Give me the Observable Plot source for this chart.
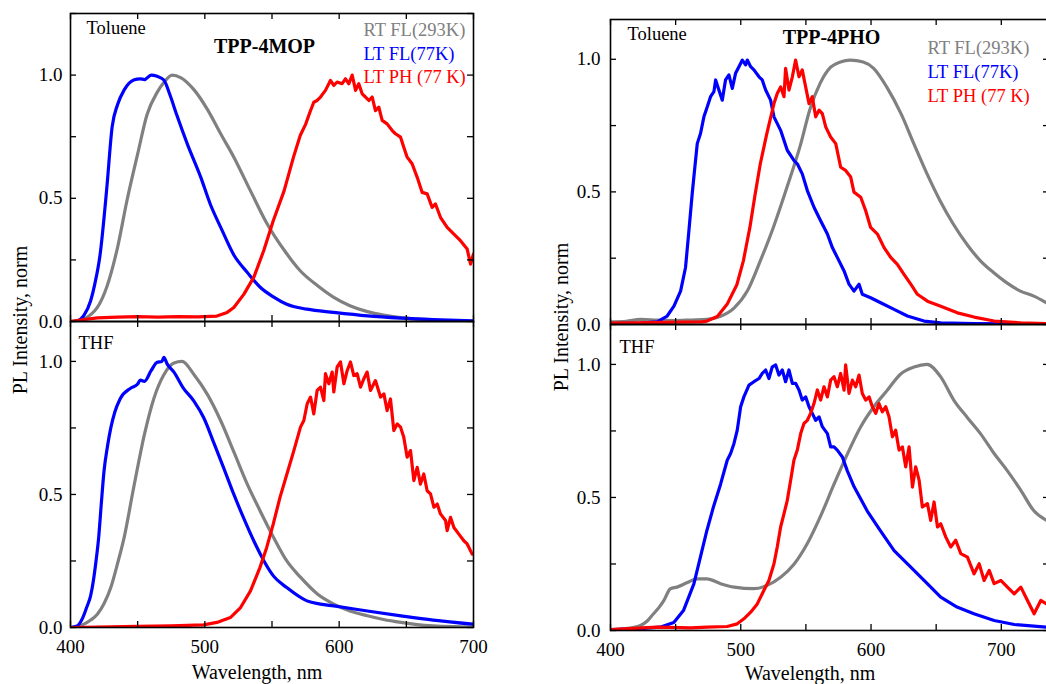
<!DOCTYPE html>
<html><head><meta charset="utf-8">
<script src="https://cdn.jsdelivr.net/npm/d3@7"></script>
<script src="https://cdn.jsdelivr.net/npm/@observablehq/plot@0.6"></script>
<style>
html,body{margin:0;padding:0;background:#fff;overflow:hidden;}
#wrap{position:relative;width:1046px;height:684px;font-family:"Liberation Serif","Times New Roman",serif;overflow:hidden;}
.panel{position:absolute;}
.panel text{font-family:"Liberation Serif","Times New Roman",serif;}
.ylab{position:absolute;font-family:"Liberation Serif","Times New Roman",serif;font-size:20px;transform:translate(-50%,-50%) rotate(-90deg);white-space:nowrap;}
.xlab{position:absolute;font-family:"Liberation Serif","Times New Roman",serif;font-size:20px;transform:translate(-50%,-50%);white-space:nowrap;}
</style></head>
<body><div id="wrap"></div>
<script>
// ---------- tick values ----------
const xTickValues = [400, 450, 500, 550, 600, 650, 700];
const xLabelValues = [400, 500, 600, 700];
const yTickValues = [0, 0.25, 0.5, 0.75, 1.0, 1.25];
const yLabelValues = [0, 0.5, 1.0];

// ---------- labels ----------
const legendLabels = ["RT FL(293K)", "LT FL(77K)", "LT PH (77 K)"];
const seriesColors = ["#808080", "#0000ff", "#ff0000"];
const compoundNames = ["TPP-4MOP", "TPP-4PHO"];
const solventNames = ["Toluene", "THF"];

// ---------- TPP-4MOP, Toluene ----------
const mopTolRT = [[400,0],[405,0.002],[410,0.01],[415,0.028],[420,0.057],[427,0.14],[435,0.30],[442,0.49],[450,0.68],[457,0.84],[464.5,0.93],[469.5,0.97],[475.7,1.0],[482,0.99],[492,0.94],[502,0.86],[512,0.76],[521.6,0.667],[534,0.53],[546,0.40],[559,0.29],[571,0.206],[584,0.145],[596,0.098],[608,0.064],[621,0.04],[633,0.026],[646,0.016],[658,0.01],[670,0.005],[685,0.002],[700,0.001]];
const mopTolFL = [[400,0],[405,0.003],[410,0.025],[415,0.084],[418,0.15],[422,0.27],[427,0.54],[431,0.79],[435,0.88],[440,0.94],[447,0.98],[452,0.985],[455,0.982],[460,1.0],[464.5,0.995],[469.5,0.98],[474,0.92],[479,0.84],[487,0.72],[497,0.585],[504,0.477],[512,0.38],[521.6,0.27],[531.5,0.20],[541,0.14],[551,0.10],[561,0.07],[576,0.05],[596,0.037],[621,0.023],[646,0.014],[670,0.008],[700,0.003]];
const mopTolPH = [[400,0],[410,0.008],[420,0.015],[435,0.018],[450,0.02],[465,0.018],[480,0.02],[495,0.019],[509,0.022],[516.6,0.037],[521.6,0.057],[529,0.11],[536.5,0.18],[544,0.29],[551,0.41],[559,0.53],[566,0.667],[571,0.755],[575,0.80],[578.7,0.856],[581.1,0.890],[583.6,0.897],[586.1,0.911],[589.8,0.938],[593.5,0.978],[596.0,0.958],[598.5,0.972],[602.2,0.965],[604.7,0.985],[607.2,0.965],[609.7,1.0],[612.2,0.938],[614.6,0.965],[617.1,0.924],[619.6,0.911],[622.1,0.897],[624.6,0.911],[627.0,0.856],[629.5,0.870],[632.0,0.816],[635.7,0.802],[639.5,0.775],[641.9,0.762],[645.7,0.748],[648.1,0.707],[650.6,0.667],[654.3,0.640],[658.1,0.585],[661.8,0.524],[665.5,0.518],[669.2,0.463],[671.7,0.477],[675.4,0.423],[680.4,0.382],[685.4,0.355],[690.3,0.328],[695.3,0.294],[697.8,0.233],[700,0.274]];

// ---------- TPP-4MOP, THF ----------
const mopThfRT = [[400,0],[405,0.004],[410,0.0125],[415,0.028],[420,0.05],[425,0.09],[430,0.15],[435,0.24],[440,0.34],[447,0.525],[455,0.725],[462,0.86],[469.5,0.95],[477,0.994],[483,1.0],[492,0.95],[502,0.875],[512,0.775],[521.6,0.66],[531.5,0.54],[541,0.44],[551,0.34],[561,0.25],[571,0.19],[584,0.125],[596,0.088],[608,0.062],[621,0.044],[633,0.03],[646,0.019],[658,0.011],[670,0.006],[685,0.003],[700,0.002]];
const mopThfFL = [[400,0],[405,0.006],[409,0.035],[412,0.075],[415,0.12],[417,0.175],[419,0.25],[421,0.34],[423,0.47],[425,0.59],[427.5,0.68],[430,0.75],[433,0.81],[437,0.86],[445,0.90],[450,0.915],[452,0.93],[455,0.925],[460,0.965],[464.5,0.997],[468,1.0],[469.5,1.015],[472,0.99],[477,0.96],[484,0.90],[492,0.85],[499,0.79],[507,0.69],[514,0.60],[521.6,0.50],[529,0.41],[536.5,0.325],[544,0.25],[551,0.194],[561,0.15],[576,0.10],[586,0.088],[596,0.081],[621,0.062],[646,0.044],[670,0.028],[700,0.0125]];
const mopThfPH = [[400,0],[450,0.004],[475,0.006],[499,0.01],[509,0.019],[519,0.0375],[526.6,0.075],[534,0.1375],[541,0.225],[546,0.30],[551,0.39],[556,0.49],[561,0.575],[566,0.66],[571.2,0.753],[573.7,0.778],[576.2,0.841],[578.7,0.866],[581.1,0.803],[583.6,0.891],[586.1,0.903],[588.6,0.853],[589.8,0.954],[592.3,0.916],[594.8,0.960],[596.0,0.885],[598.5,0.979],[601.0,0.998],[603.5,0.916],[606.0,0.966],[608.4,0.998],[610.9,0.947],[613.4,0.954],[615.9,0.903],[618.4,0.935],[620.8,0.960],[623.3,0.891],[627.0,0.928],[630.8,0.866],[633.3,0.878],[635.7,0.815],[638.2,0.859],[640.7,0.740],[643.2,0.765],[645.7,0.753],[648.1,0.715],[650.6,0.640],[653.1,0.665],[655.6,0.552],[658.1,0.602],[660.5,0.539],[663.0,0.577],[665.5,0.514],[668.0,0.502],[670.5,0.452],[673.0,0.464],[675.4,0.427],[679.2,0.402],[680.4,0.364],[682.9,0.414],[685.4,0.376],[689.1,0.351],[692.8,0.326],[695.3,0.314],[699.0,0.276]];

// ---------- TPP-4PHO, Toluene ----------
const phoTolRT = [[400,0.01],[412,0.012],[423,0.019],[435,0.017],[448.6,0.015],[462,0.017],[474,0.019],[484,0.03],[495,0.063],[505,0.126],[515,0.24],[525,0.366],[535.5,0.518],[546,0.68],[553,0.81],[561,0.91],[569,0.97],[576.5,0.99],[584,0.997],[594,0.99],[602,0.966],[612,0.896],[623,0.795],[633,0.68],[643,0.568],[653,0.467],[663,0.38],[674,0.30],[684,0.24],[694,0.196],[704,0.158],[714.6,0.126],[725,0.107],[734.7,0.082]];
const phoTolFL = [[400,0.003],[423.0,0.005],[435.9,0.010],[443.5,0.032],[448.7,0.069],[453.8,0.126],[457.6,0.215],[460.2,0.354],[462.7,0.492],[464.5,0.581],[466.6,0.682],[469.1,0.720],[471.7,0.783],[474.3,0.821],[476.8,0.859],[479.4,0.878],[480.7,0.922],[483.2,0.884],[485.8,0.846],[488.3,0.922],[490.9,0.941],[493.5,0.890],[496.0,0.947],[498.6,0.972],[501.2,0.997],[503.7,0.979],[505.0,0.997],[507.6,0.972],[510.1,0.960],[514.0,0.934],[516.5,0.922],[519.1,0.884],[522.9,0.846],[525.5,0.783],[530.6,0.732],[535.7,0.657],[540.8,0.619],[543.4,0.606],[547.2,0.568],[551.1,0.505],[556.2,0.442],[561.3,0.391],[566.5,0.341],[570.3,0.290],[574.1,0.253],[579.3,0.202],[583.1,0.152],[586.9,0.126],[590.8,0.152],[593.3,0.114],[599.7,0.101],[607.4,0.082],[617.7,0.057],[627.9,0.032],[640.7,0.013],[653.5,0.006],[679.1,0.003],[734.7,0.002]];
const phoTolPH = [[400,0.005],[420,0.006],[440,0.008],[455,0.009],[470,0.01],[474,0.013],[482,0.03],[489.5,0.076],[497,0.15],[502,0.24],[507,0.366],[511,0.49],[515,0.606],[520,0.72],[525.5,0.833],[528.0,0.871],[530.6,0.896],[533.2,0.859],[534.4,0.966],[537.0,0.884],[539.6,0.934],[542.1,0.997],[544.7,0.934],[547.2,0.960],[549.8,0.896],[552.4,0.833],[554.9,0.859],[557.5,0.783],[560.1,0.808],[562.6,0.795],[565.2,0.745],[569.0,0.707],[572.9,0.682],[576.7,0.593],[580.5,0.581],[584.4,0.556],[586.9,0.499],[592.1,0.480],[595.9,0.429],[599.7,0.366],[604.9,0.341],[610.0,0.290],[615.1,0.253],[620.2,0.227],[625.3,0.189],[630.5,0.152],[635.6,0.114],[643.3,0.088],[653.5,0.069],[666.3,0.044],[679.1,0.028],[694.5,0.013],[715.0,0.006],[734.7,0.003]];

// ---------- TPP-4PHO, THF ----------
const phoThfRT = [[400,0.003],[410,0.006],[423,0.019],[428,0.035],[433,0.063],[437,0.085],[441,0.113],[446,0.157],[451,0.163],[459,0.18],[466.6,0.194],[474,0.194],[484.5,0.176],[495,0.163],[510,0.157],[520,0.169],[530.6,0.20],[541,0.25],[551,0.326],[561,0.427],[571.6,0.55],[582,0.665],[592,0.765],[602,0.84],[612,0.90],[623,0.965],[633,0.99],[643,1.0],[653.5,0.953],[663.5,0.866],[674,0.80],[684,0.74],[694.5,0.665],[704.7,0.60],[715,0.527],[725,0.45],[734.7,0.414]];
const phoThfFL = [[400,0.003],[420,0.006],[438,0.0125],[448.6,0.03],[456,0.075],[464,0.175],[469,0.276],[474,0.376],[479,0.464],[484.5,0.55],[489.6,0.640],[492.2,0.665],[494.8,0.703],[497.3,0.753],[499.9,0.841],[502.4,0.878],[506.3,0.922],[510.1,0.935],[514.0,0.947],[516.5,0.966],[519.1,0.979],[521.6,0.947],[524.2,0.991],[526.8,0.998],[529.3,0.960],[531.9,0.979],[534.4,0.935],[537.0,0.979],[539.6,0.929],[542.1,0.929],[544.7,0.904],[547.2,0.866],[549.8,0.878],[552.4,0.841],[554.9,0.816],[557.5,0.790],[560.1,0.803],[562.6,0.766],[566.5,0.740],[569.0,0.690],[571.6,0.690],[574.1,0.678],[578.0,0.652],[581.8,0.60],[587,0.54],[597,0.45],[607,0.376],[617.7,0.30],[628,0.25],[640.7,0.188],[653.5,0.125],[666,0.088],[679,0.063],[694.5,0.0376],[710,0.0226],[734.7,0.0125]];
const phoThfPH = [[400,0.003],[435.9,0.013],[461.5,0.010],[474.3,0.013],[489.6,0.015],[497.3,0.025],[502.4,0.044],[507.6,0.069],[512.7,0.100],[517.8,0.151],[521.6,0.188],[525.5,0.251],[528.0,0.314],[530.6,0.389],[533.2,0.439],[535.7,0.489],[538.3,0.565],[540.8,0.640],[543.4,0.678],[546.0,0.740],[548.5,0.778],[551.1,0.790],[553.6,0.816],[556.2,0.853],[558.8,0.904],[561.3,0.866],[563.9,0.916],[566.5,0.878],[569.0,0.941],[571.6,0.954],[574.1,0.916],[576.7,0.966],[579.3,0.903],[580.5,0.998],[583.1,0.891],[585.7,0.941],[588.2,0.916],[590.8,0.960],[593.3,0.891],[595.9,0.866],[598.5,0.878],[601.0,0.841],[603.6,0.816],[606.1,0.853],[608.7,0.822],[611.3,0.841],[613.8,0.803],[616.4,0.728],[618.9,0.753],[621.5,0.678],[624.1,0.690],[626.6,0.615],[629.2,0.690],[631.8,0.539],[634.3,0.615],[636.9,0.565],[639.4,0.464],[643.3,0.477],[645.8,0.414],[648.4,0.483],[651.0,0.389],[653.5,0.401],[657.4,0.351],[661.2,0.314],[665.0,0.339],[668.9,0.289],[674.0,0.276],[679.1,0.213],[683.0,0.251],[686.8,0.188],[690.7,0.226],[694.5,0.176],[699.6,0.188],[704.7,0.163],[709.9,0.138],[715.0,0.163],[720.1,0.113],[725.2,0.063],[730.3,0.113],[734.7,0.100]];

// ---------- drawing ----------
const FONT = "'Liberation Serif', 'Times New Roman', serif";
function subplot(o) {
  const pw = o.width - o.ml - o.mr, ph = o.height - o.mt - o.mb;
  const xt = xTickValues.filter(v => v >= o.xDomain[0] && v <= o.xDomain[1]);
  const yt = yTickValues.filter(v => v >= o.yDomain[0] && v <= o.yDomain[1]);
  const marks = [];
  o.series.forEach((s, i) => {
    marks.push(Plot.line(s.data, {x: d => d[0], y: d => d[1], stroke: seriesColors[i], strokeWidth: 3.2,
      curve: s.smooth ? "monotone-x" : "linear", strokeLinejoin: "round", clip: true}));
  });
  marks.push(Plot.tickX(xt, {x: d => d, insetTop: ph - 6, stroke: "black", strokeWidth: 1.3}));
  marks.push(Plot.tickX(xt, {x: d => d, insetBottom: ph - 6, stroke: "black", strokeWidth: 1.3}));
  marks.push(Plot.tickY(yt, {y: d => d, insetRight: pw - 6, stroke: "black", strokeWidth: 1.3}));
  marks.push(Plot.tickY(yt, {y: d => d, insetLeft: pw - 6, stroke: "black", strokeWidth: 1.3}));
  marks.push(Plot.frame({stroke: "black", strokeWidth: 1.6}));
  marks.push(Plot.axisY(yLabelValues, {tickSize: 0, tickPadding: o.yPad, tickFormat: d3.format(".1f"), fontSize: 19, fontFamily: FONT, label: null}));
  if (o.xLabels) marks.push(Plot.axisX(xLabelValues, {tickSize: 0, tickPadding: 12, fontSize: 19, fontFamily: FONT, label: null}));
  o.texts.forEach(t => {
    marks.push(Plot.text([t.text], {text: d => d, frameAnchor: "top-left", dx: t.dx, dy: t.dy,
      textAnchor: t.anchor || "start", lineAnchor: "bottom", fill: t.color || "black", fontFamily: FONT,
      fontSize: t.size || 18.5, fontWeight: t.bold ? "bold" : "normal"}));
  });
  const svg = Plot.plot({
    width: o.width, height: o.height,
    marginTop: o.mt, marginBottom: o.mb, marginLeft: o.ml, marginRight: o.mr,
    x: {domain: o.xDomain, axis: null},
    y: {domain: o.yDomain, axis: null},
    style: {background: "transparent", overflow: "visible", fontFamily: FONT, maxWidth: "none", color: "black"},
    marks
  });
  svg.classList.add("panel");
  svg.style.left = o.left + "px";
  svg.style.top = o.top + "px";
  svg.style.position = "absolute";
  return svg;
}

const wrap = document.getElementById("wrap");
const legendTexts = (dx, dys) => legendLabels.map((t, i) => ({text: t, dx, dy: dys[i], color: seriesColors[i]}));

wrap.appendChild(subplot({
  left: 0, top: 0, width: 500, height: 321, mt: 13, mb: 0, ml: 70, mr: 27, yPad: 8,
  xDomain: [400, 700], yDomain: [0, 1.25], xLabels: false,
  series: [{data: mopTolRT, smooth: true}, {data: mopTolFL, smooth: true}, {data: mopTolPH}],
  texts: [{text: solventNames[0], dx: 16, dy: 20}, {text: compoundNames[0], dx: 194, dy: 39, anchor: "middle", bold: true, size: 20},
    ...legendTexts(293, [22, 46, 69])]
}));
wrap.appendChild(subplot({
  left: 0, top: 320, width: 500, height: 364, mt: 1, mb: 57, ml: 70, mr: 27, yPad: 8,
  xDomain: [400, 700], yDomain: [0, 1.15], xLabels: true,
  series: [{data: mopThfRT, smooth: true}, {data: mopThfFL, smooth: true}, {data: mopThfPH}],
  texts: [{text: solventNames[1], dx: 8, dy: 27}]
}));
wrap.appendChild(subplot({
  left: 540, top: 0, width: 509, height: 324, mt: 19, mb: 0, ml: 70, mr: 0, yPad: 10,
  xDomain: [400, 737], yDomain: [0, 1.15], xLabels: false,
  series: [{data: phoTolRT, smooth: true}, {data: phoTolFL}, {data: phoTolPH}],
  texts: [{text: solventNames[0], dx: 17, dy: 20}, {text: compoundNames[1], dx: 221, dy: 24, anchor: "middle", bold: true, size: 20},
    ...legendTexts(317, [34, 58, 82])]
}));
wrap.appendChild(subplot({
  left: 540, top: 323, width: 509, height: 361, mt: 1, mb: 54, ml: 70, mr: 0, yPad: 10,
  xDomain: [400, 737], yDomain: [0, 1.15], xLabels: true,
  series: [{data: phoThfRT, smooth: true}, {data: phoThfFL}, {data: phoThfPH}],
  texts: [{text: solventNames[1], dx: 9, dy: 28}]
}));

function addLabel(cls, text, x, y) {
  const d = document.createElement("div");
  d.className = cls; d.textContent = text;
  d.style.left = x + "px"; d.style.top = y + "px";
  wrap.appendChild(d);
}
addLabel("ylab", "PL Intensity, norm", 20, 320);
addLabel("ylab", "PL Intensity, norm", 561, 317);
addLabel("xlab", "Wavelength, nm", 257, 672);
addLabel("xlab", "Wavelength, nm", 810, 673);
</script></body></html>
